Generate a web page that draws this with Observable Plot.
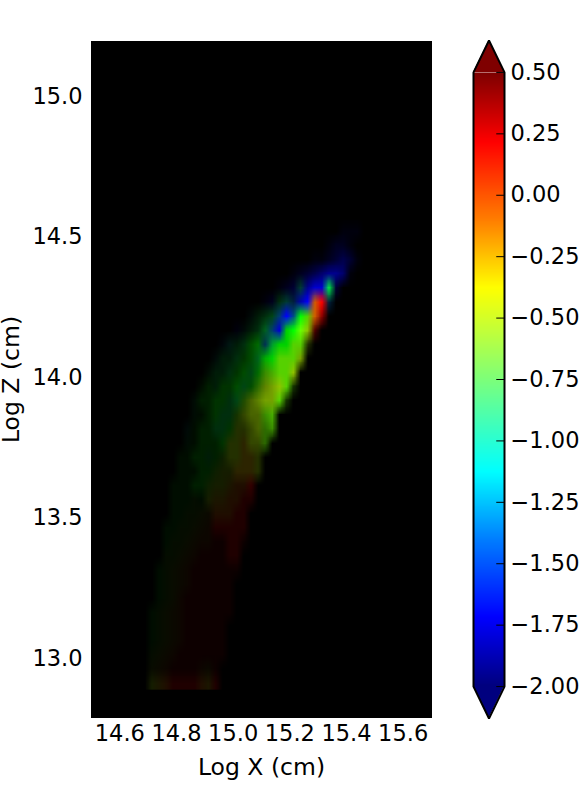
<!DOCTYPE html>
<html><head><meta charset="utf-8">
<script src="https://cdn.jsdelivr.net/npm/d3@7"></script>
<script src="https://cdn.jsdelivr.net/npm/@observablehq/plot@0.6"></script>
<style>
html,body{margin:0;padding:0;background:#fff}
#chart{position:relative;width:586px;height:801px;overflow:hidden}
#chart svg{position:absolute;top:0;background:transparent;font-family:"DejaVu Sans"}
</style></head><body><div id="chart"></div>
<script>
const xTicks=[14.6,14.8,15.0,15.2,15.4,15.6];
const zTicks=[13.0,13.5,14.0,14.5,15.0];
const barTicks=[0.5,0.25,0,-0.25,-0.5,-0.75,-1,-1.25,-1.5,-1.75,-2];
const jetDomain=[-2,-1.722,-1.4,-1.125,-0.75,-0.375,-0.1,0.222,0.5];
const jetRange=["#00007f","#0000ff","#007fff","#00ffff","#7dff7a","#ffff00","#ff7f00","#ff0000","#7f0000"];
const imageDomain=[-1.7,-1.15,-0.8,-0.6,-0.42,-0.1,0.2];
const imageRange=["#0000ff","#00c8a0","#00ff00","#8cff00","#c8e000","#ff7000","#ff0000"];
const valueLevels=[-1.7,-1.4,-1.15,-0.95,-0.8,-0.65,-0.5,-0.3,-0.1,0.2];
const brightLevels=[0,0.05,0.12,0.2,0.3,0.42,0.55,0.68,0.82,1];
const gridCols=34, gridRows=34;
const gridX=[14.65,15.5], gridZ=[14.6,12.893];
const rowStart=[30,28,26,24,22,20,18,16,14,12,11,10,9,8,8,7,7,6,6,5,5,5,4,4,4,3,3,3,2,2,2,2,2,2];
const rowValues=["000","00000","000000","00000000","000000000","000200030","0032100891","23331014589","023331044569","1233441344556","2333443445556","3333443455556","44344434566655","34444335666655","344433566655","2444334666655","344444667665","444434566776","444445667776","444445667889","444546778899","44556788899","445567899999","455678899999","55678999999","456789999999","45678999999","45689999999","456789999999","45678999999","45678999999","56789999999","6789999879","6789999879"];
const rowBright=["000","01110","012210","01123431","123456651","123468893","1234479894","12346979886","112356889984","1223455788883","1223345788887","1223344567888","12233444567883","12233344567783","112333345567","1122333334556","112223333445","112222233333","111222223333","111222222223","111112222222","11111122222","111111122222","111111111221","11111111122","111111111111","11111111111","11111111111","111111111111","11111111111","11111111111","11111111111","1111111111","2222222222"];

const cells=[];
for(let r=0;r<gridRows;r++){for(let c=0;c<gridCols;c++){
  const k=c-rowStart[r];
  const inside=k>=0&&k<rowValues[r].length;
  cells.push({value:inside?valueLevels[+rowValues[r][k]]:-2,bright:inside?brightLevels[+rowBright[r][k]]:0});
}}

const main=Plot.plot({
  width:470,height:801,marginLeft:91,marginRight:39,marginTop:41,marginBottom:84,
  style:{fontFamily:"DejaVu Sans",background:"transparent",overflow:"visible"},
  x:{domain:[14.5,15.7]},y:{domain:[12.794,15.199]},
  color:{type:"linear",domain:imageDomain,range:imageRange,interpolate:"rgb"},
  marks:[
    Plot.frame({fill:"black",stroke:"black"}),
    Plot.raster(cells,{width:gridCols,height:gridRows,x1:gridX[0],x2:gridX[1],y1:gridZ[0],y2:gridZ[1],fill:d=>d.value,fillOpacity:d=>d.bright}),
    Plot.axisX({ticks:xTicks,tickSize:0,tickPadding:8,fontSize:22.5,tickFormat:d3.format(".1f"),label:null,fill:"black"}),
    Plot.axisY({ticks:zTicks,tickSize:0,tickPadding:9,fontSize:22.5,tickFormat:d3.format(".1f"),label:null,fill:"black",dy:-1}),
    Plot.text(["Log X (cm)"],{frameAnchor:"bottom",textAnchor:"middle",dy:50,fontSize:23.5,fill:"black",lineAnchor:"middle"}),
    Plot.text(["Log Z (cm)"],{frameAnchor:"left",textAnchor:"middle",dx:-80,rotate:-90,fontSize:23.5,fill:"black"})
  ]
});
main.style.left="0px";

const barMin=-2,barMax=0.5,barExtend=0.13;
const ramp=d3.range(256).map(i=>barMax-(barMax-barMin)*i/255);
const outline=[[0,barMin],[0.5,barMin-barExtend],[1,barMin],[1,barMax],[0.5,barMax+barExtend],[0,barMax],[0,barMin]];
const tipTop=[[0,barMax],[0.5,barMax+barExtend],[1,barMax]];
const tipBottom=[[0,barMin],[0.5,barMin-barExtend],[1,barMin]];
const bar=Plot.plot({
  width:126,height:801,marginLeft:13,marginRight:82,marginTop:40,marginBottom:83,
  style:{fontFamily:"DejaVu Sans",background:"transparent",overflow:"visible"},
  x:{domain:[0,1],axis:null},y:{domain:[barMin-barExtend,barMax+barExtend]},
  color:{type:"linear",domain:jetDomain,range:jetRange,interpolate:"rgb"},
  marks:[
    Plot.raster(ramp,{width:1,height:256,x1:0,x2:1,y1:barMax,y2:barMin,fill:d=>d}),
    Plot.areaY(tipTop,{x:d=>d[0],y1:barMax,y2:d=>d[1],fill:jetRange[8]}),
    Plot.areaY(tipBottom,{x:d=>d[0],y1:barMin,y2:d=>d[1],fill:jetRange[0]}),
    Plot.ruleY(barTicks,{x1:0.75,x2:1,y:d=>d,stroke:"black",strokeWidth:1}),
    Plot.line(outline,{x:d=>d[0],y:d=>d[1],stroke:"black",strokeWidth:2,strokeLinejoin:"miter"}),
    Plot.axisY({anchor:"right",ticks:barTicks,tickSize:0,tickPadding:6,fontSize:22.5,tickFormat:d3.format(".2f"),label:null,fill:"black"})
  ]
});
bar.style.left="460px";
document.getElementById("chart").append(main,bar);
</script></body></html>
